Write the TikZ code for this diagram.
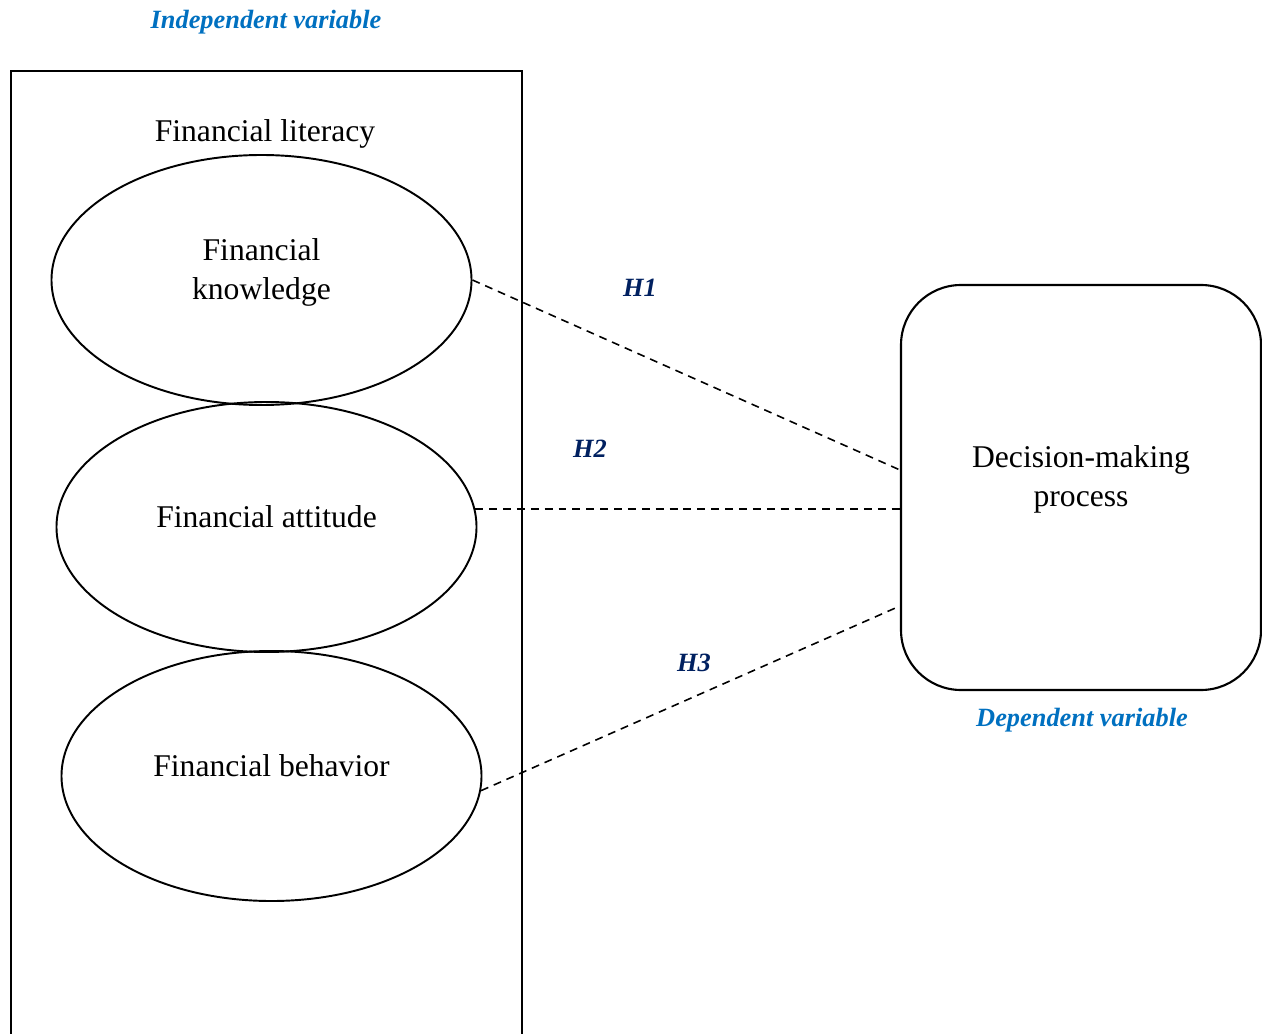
\documentclass[tikz,border=0pt]{standalone}
\usepackage{fontspec}
\setmainfont{Liberation Serif}
\usetikzlibrary{shapes.geometric}
\definecolor{varblue}{HTML}{0070C0}
\definecolor{hypnavy}{HTML}{002060}

\begin{document}
\begin{tikzpicture}[
	factor/.style={draw, line width=1.1pt, ellipse, minimum width=8.4cm, minimum height=5cm, inner sep=0pt, align=center, font=\fontsize{18}{22}\selectfont},
	outcome/.style={draw, line width=1.2pt, rounded corners=1.2cm, minimum width=7.2cm, minimum height=8.1cm, align=center, font=\fontsize{18}{22}\selectfont},
	varlabel/.style={text=varblue, font=\fontsize{15}{18}\selectfont\bfseries\itshape},
	hyplabel/.style={text=hypnavy, font=\fontsize{15}{18}\selectfont\bfseries\itshape},
	link/.style={line width=0.9pt, dash pattern=on 4.5pt off 3.4pt}
]
			%%%%% START %%%%%
			\useasboundingbox (0, 0) rectangle (25.24, -20.68);
			
			\node[varlabel] (indep) at (5.32, -0.44) {Independent variable};
			\draw[line width=1.2pt] (0.22, -20.68) -- (0.22, -1.42) -- (10.44, -1.42) -- (10.44, -20.68);
			\node[font=\fontsize{18}{22}\selectfont] (lit) at (5.30, -2.68) {Financial literacy};
			
			\node[factor, text depth=0.45cm] (know) at (5.23, -5.60) {Financial\\knowledge};
			\node[factor, text depth=0.4cm] (att) at (5.33, -10.54) {Financial attitude};
			\node[factor, text depth=0.4cm] (beh) at (5.43, -15.52) {Financial behavior};
			
			\node[outcome, text depth=0.45cm] (dec) at (21.62, -9.75) {Decision-making\\process};
			\node[varlabel] (dep) at (21.64, -14.40) {Dependent variable};
			
			\draw[link] (know.east) -- ([yshift=0.35cm]dec.west);
			\draw[link] (att.5) -- (att.5 -| dec.west);
			\draw[link] (beh.-4) -- ([yshift=-2.37cm]dec.west);
			
			\node[hyplabel] (h1) at (12.80, -5.76) {H1};
			\node[hyplabel] (h2) at (11.80, -8.98) {H2};
			\node[hyplabel] (h3) at (13.88, -13.26) {H3};
			
			%%%%% END %%%%%
\end{tikzpicture}
\end{document}
